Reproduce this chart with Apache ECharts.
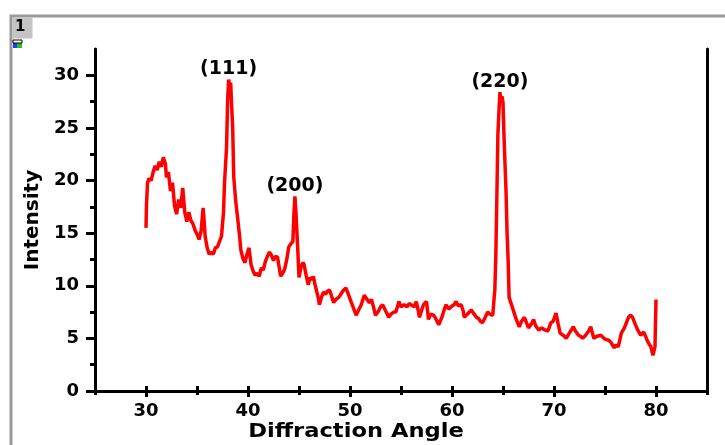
<!DOCTYPE html>
<html>
<head>
    <meta charset="UTF-8">
    <title>XRD pattern</title>
    <script src="https://cdn.jsdelivr.net/npm/echarts@6/dist/echarts.min.js"></script>
    <style>
        * { margin: 0; padding: 0; }
        body { background: #fff; }
        #chart { width: 725px; height: 445px; }
    </style>
</head>
<body>
    <div id="chart"></div>
    <script>
        // 2θ (deg) and intensity
        const angles = [
            30.0, 30.05, 30.15, 30.3, 30.5, 30.7, 30.9, 31.1, 31.3, 31.5, 31.7, 31.9, 32.0, 32.2, 32.4, 32.6, 32.8,
            33.0, 33.2, 33.4, 33.6, 33.8, 34.0, 34.2, 34.4, 34.6, 34.8, 35.0, 35.2, 35.4, 35.6, 35.7, 35.8,
            36.0, 36.2, 36.4, 36.6, 36.8, 37.0, 37.2, 37.4, 37.6, 37.7, 37.9, 38.0, 38.1, 38.2, 38.3, 38.4,
            38.5, 38.6, 38.8, 39.0, 39.2, 39.3, 39.5, 39.7, 39.9, 40.1, 40.3, 40.5, 40.7, 40.9, 41.1, 41.3,
            41.5, 41.7, 41.9, 42.1, 42.3, 42.5, 42.7, 42.9, 43.1, 43.2, 43.4, 43.6, 43.8, 44.0, 44.2, 44.4,
            44.5, 44.6, 44.7, 44.8, 44.9, 45.0, 45.2, 45.4, 45.5, 45.7, 45.9, 46.1, 46.3, 46.4, 46.6, 46.7,
            46.9, 47.0, 47.2, 47.4, 47.6, 47.8, 48.0, 48.2, 48.4, 48.6, 48.9, 49.1, 49.3, 49.6, 49.8, 50.1,
            50.3, 50.6, 50.8, 51.1, 51.4, 51.6, 51.9, 52.1, 52.3, 52.5, 52.8, 53.0, 53.2, 53.5, 53.8, 54.0,
            54.3, 54.5, 54.8, 55.0, 55.3, 55.6, 55.8, 56.0, 56.3, 56.5, 56.7, 56.8, 57.0, 57.2, 57.5, 57.7,
            57.9, 58.2, 58.4, 58.7, 59.0, 59.2, 59.4, 59.7, 59.9, 60.2, 60.4, 60.6, 60.9, 61.1, 61.2, 61.5,
            61.7, 61.9, 62.1, 62.4, 62.6, 62.8, 63.0, 63.2, 63.5, 63.7, 64.0, 64.1, 64.2, 64.3, 64.4, 64.5,
            64.6, 64.7, 64.8, 64.9, 65.0, 65.1, 65.2, 65.3, 65.4, 65.5, 65.6, 65.8, 66.1, 66.3, 66.6, 66.8,
            67.1, 67.3, 67.5, 67.8, 68.0, 68.2, 68.5, 68.8, 69.1, 69.4, 69.7, 69.9, 70.2, 70.4, 70.6, 70.9,
            71.2, 71.5, 71.9, 72.1, 72.4, 72.6, 72.8, 73.1, 73.4, 73.6, 73.9, 74.2, 74.6, 74.9, 75.1, 75.4,
            75.6, 75.9, 76.1, 76.3, 76.6, 76.9, 77.1, 77.3, 77.5, 77.7, 77.9, 78.2, 78.5, 78.8, 79.1, 79.3,
            79.5, 79.7, 79.8, 79.9, 80.0
        ];
        const intensity = [
            15.5, 17.7, 19.8, 20.2, 20.0, 20.8, 21.4, 21.0, 21.8, 21.3, 22.2, 21.6, 20.3, 20.8, 19.0, 19.8, 17.6,
            16.8, 18.2, 17.4, 19.3, 17.0, 16.1, 17.0, 16.2, 15.9, 15.3, 14.9, 14.4, 15.2, 17.4, 16.2, 14.7,
            13.6, 13.0, 13.2, 13.0, 13.6, 13.7, 14.2, 14.7, 17.0, 19.8, 23.2, 27.5, 29.6, 29.0, 29.3, 27.0,
            25.0, 20.4, 18.0, 16.3, 14.5, 13.4, 12.6, 12.2, 13.0, 13.6, 12.0, 11.4, 11.0, 11.2, 10.9, 11.7,
            11.5, 12.3, 12.8, 13.2, 12.9, 12.4, 12.8, 12.7, 11.5, 10.9, 11.2, 11.6, 12.5, 13.7, 14.0, 14.2,
            16.8, 18.5, 17.0, 15.0, 13.0, 10.8, 11.8, 12.2, 12.0, 11.0, 10.1, 10.8, 10.6, 10.9, 10.0, 9.9,
            8.8, 8.2, 8.9, 9.4, 9.2, 9.5, 9.6, 9.0, 8.4, 8.7, 8.9, 9.2, 9.5, 9.8, 9.3, 8.5,
            8.0, 7.2, 7.6, 8.2, 9.1, 8.8, 8.4, 8.7, 8.0, 7.2, 7.6, 8.0, 8.2, 7.6, 7.0, 7.3,
            7.5, 7.5, 8.5, 8.0, 8.2, 8.0, 8.3, 8.2, 8.0, 8.5, 7.6, 7.0, 7.6, 8.2, 8.5, 6.8,
            7.3, 7.2, 6.9, 6.3, 7.0, 7.6, 8.2, 7.8, 8.0, 8.2, 8.5, 8.1, 8.2, 7.6, 7.0, 7.3,
            7.5, 7.7, 7.4, 7.0, 6.9, 6.6, 6.5, 6.9, 7.5, 7.3, 7.2, 8.5, 9.6, 13.0, 18.5, 24.4,
            26.5, 28.4, 27.5, 28.0, 27.4, 24.2, 21.5, 18.9, 15.0, 12.5, 8.9, 8.3, 7.4, 6.8, 6.1, 6.6,
            7.0, 6.5, 6.0, 6.4, 6.8, 6.2, 5.8, 6.0, 5.8, 5.7, 6.5, 6.6, 7.4, 6.4, 5.5, 5.3,
            5.0, 5.5, 6.1, 5.7, 5.3, 5.2, 5.0, 5.3, 5.7, 6.1, 5.0, 5.2, 5.3, 5.0, 4.9, 4.8,
            4.6, 4.1, 4.4, 4.2, 5.5, 6.0, 6.5, 7.0, 7.2, 7.0, 6.5, 5.8, 5.3, 5.6, 4.9, 4.5,
            4.2, 3.4, 3.8, 4.2, 8.7
        ];

        // peak annotations
        const peakAngles = [38.1, 44.6, 64.7];
        const peakValues = [29.6, 18.5, 28.4];
        const peakNames = ['(111)', '(200)', '(220)'];

        // tick positions
        const xMajorTicks = [30, 40, 50, 60, 70, 80];
        const xMinorTicks = [25, 35, 45, 55, 65, 75, 85];
        const xTopTicks = [25, 30, 35, 40, 45, 50, 55, 60, 65, 70, 75, 80, 85];
        const yMajorTicks = [0, 5, 10, 15, 20, 25, 30];
        const yMinorTicks = [2.5, 7.5, 12.5, 17.5, 22.5, 27.5];

        const FONT = 'DejaVu Sans';
        const lineStyle = { color: '#000', width: 3 };

        const chart = echarts.init(document.getElementById('chart'));

        const xBase = { type: 'value', min: 25, max: 85, splitLine: { show: false } };
        const yBase = { type: 'value', min: 0, max: 32.5, splitLine: { show: false } };

        chart.setOption({
            animation: false,
            backgroundColor: '#fff',
            grid: { left: 95, top: 49, right: 18, bottom: 54 },
            graphic: [
                // outer frame and sheet tag
                { type: 'rect', shape: { x: 11, y: 16, width: 800, height: 600 },
                  style: { fill: 'none', stroke: '#9a9a9a', lineWidth: 3 }, z: -1 },
                { type: 'rect', shape: { x: 12.5, y: 17.5, width: 20, height: 21 },
                  style: { fill: '#c4c4c4' } },
                { type: 'text', x: 15, y: 20, style: { text: '1', font: 'bold 15px "DejaVu Sans"', fill: '#000' } },
                { type: 'rect', shape: { x: 13, y: 43, width: 4, height: 5 }, style: { fill: '#1e3cff' } },
                { type: 'rect', shape: { x: 17, y: 43, width: 5, height: 5 }, style: { fill: '#22c022' } },
                { type: 'rect', shape: { x: 13, y: 40, width: 9, height: 3 },
                  style: { fill: 'none', stroke: '#000', lineWidth: 1 } },
                // x axis title
                { type: 'text', x: 356, y: 432, scaleX: 1.13, originX: 0, originY: 0,
                  style: { text: 'Diffraction Angle', font: 'bold 20px "DejaVu Sans"', fill: '#000',
                           align: 'center', verticalAlign: 'middle' } }
            ],
            xAxis: [
                Object.assign({}, xBase, {
                    position: 'bottom',
                    axisLine: { show: true, lineStyle: lineStyle },
                    axisTick: { show: true, length: 6, lineStyle: { color: '#000', width: 3 }, customValues: xMajorTicks },
                    axisLabel: { customValues: xMajorTicks, margin: 11, color: '#000',
                                 fontFamily: FONT, fontWeight: 'bold', fontSize: 18 }
                }),
                Object.assign({}, xBase, {
                    position: 'bottom',
                    axisLine: { show: false },
                    axisTick: { show: true, length: 4, lineStyle: { color: '#000', width: 3 }, customValues: xMinorTicks },
                    axisLabel: { show: false }
                }),
                Object.assign({}, xBase, {
                    position: 'top',
                    axisLine: { show: true, lineStyle: lineStyle },
                    axisTick: { show: true, length: 5, lineStyle: { color: '#000', width: 3 }, customValues: xTopTicks },
                    axisLabel: { show: false }
                })
            ],
            yAxis: [
                Object.assign({}, yBase, {
                    position: 'left',
                    name: 'Intensity',
                    nameLocation: 'middle',
                    nameGap: 49,
                    nameRotate: 90,
                    nameTextStyle: { color: '#000', fontFamily: FONT, fontWeight: 'bold', fontSize: 20 },
                    axisLine: { show: true, lineStyle: lineStyle },
                    axisTick: { show: true, length: 9, lineStyle: { color: '#000', width: 3 }, customValues: yMajorTicks },
                    axisLabel: { customValues: yMajorTicks, margin: 16, color: '#000',
                                 fontFamily: FONT, fontWeight: 'bold', fontSize: 18 }
                }),
                Object.assign({}, yBase, {
                    position: 'left',
                    axisLine: { show: false },
                    axisTick: { show: true, length: 5, lineStyle: { color: '#000', width: 3 }, customValues: yMinorTicks },
                    axisLabel: { show: false }
                }),
                Object.assign({}, yBase, {
                    position: 'right',
                    axisLine: { show: true, lineStyle: lineStyle },
                    axisTick: { show: false },
                    axisLabel: { show: false }
                })
            ],
            series: [
                {
                    type: 'line',
                    xAxisIndex: 0,
                    yAxisIndex: 0,
                    data: angles.map((a, i) => [a, intensity[i]]),
                    showSymbol: false,
                    symbol: 'none',
                    lineStyle: { color: '#ff0000', width: 3.5 },
                    z: 3
                },
                {
                    type: 'scatter',
                    xAxisIndex: 0,
                    yAxisIndex: 0,
                    symbolSize: 0,
                    itemStyle: { opacity: 1 },
                    data: peakAngles.map((a, i) => ({ value: [a, peakValues[i]], name: peakNames[i] })),
                    label: {
                        show: true,
                        position: 'top',
                        distance: 1,
                        formatter: p => p.name,
                        color: '#000',
                        fontFamily: FONT,
                        fontWeight: 'bold',
                        fontSize: 19
                    },
                    z: 4
                }
            ]
        });
    </script>
</body>
</html>
